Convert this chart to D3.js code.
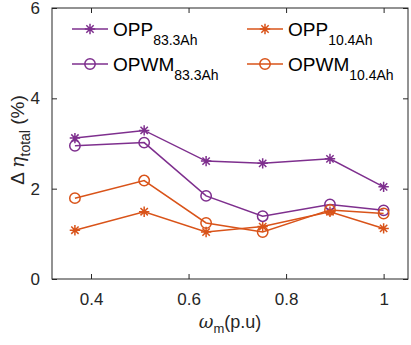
<!DOCTYPE html>
<html><head><meta charset="utf-8">
<script src="https://cdn.jsdelivr.net/npm/d3@7"></script>
<style>body{margin:0;background:#fff}svg{font-family:"Liberation Sans",Arial,sans-serif}</style>
</head><body>
<svg id="c" width="411" height="345"></svg>
<script>
const speeds = [0.367, 0.509, 0.636, 0.752, 0.89, 1.0];
const opp833 = [3.12, 3.29, 2.61, 2.56, 2.66, 2.04];
const opwm833 = [2.95, 3.02, 1.84, 1.39, 1.65, 1.52];
const opp104 = [1.08, 1.49, 1.04, 1.16, 1.49, 1.12];
const opwm104 = [1.79, 2.18, 1.24, 1.04, 1.53, 1.45];
const xTicks = [0.4, 0.6, 0.8, 1];
const yTicks = [0, 2, 4, 6];
const seriesNames = [["OPP","83.3Ah"],["OPP","10.4Ah"],["OPWM","83.3Ah"],["OPWM","10.4Ah"]];

const purple = "#7E2F8E", orange = "#D95319";
const series = [
  {vals: opp833, color: purple, marker: "star", name: seriesNames[0]},
  {vals: opp104, color: orange, marker: "star", name: seriesNames[1]},
  {vals: opwm833, color: purple, marker: "circle", name: seriesNames[2]},
  {vals: opwm104, color: orange, marker: "circle", name: seriesNames[3]},
];

const L = 52, R = 408, T = 8, B = 279;
const svg = d3.select("#c");
const x = d3.scaleLinear().domain([0.32, 1.05]).range([L, R]);
const y = d3.scaleLinear().domain([0, 6]).range([B, T]);
const axisColor = "#262626";
const tickFont = "17px";

const gx = svg.append("g").attr("transform", `translate(0,${B})`)
  .call(d3.axisBottom(x).tickValues(xTicks).tickSize(-5).tickPadding(14).tickFormat(d => d === 1 ? "1" : d3.format(".1f")(d)));
const gxt = svg.append("g").attr("transform", `translate(0,${T})`)
  .call(d3.axisTop(x).tickValues(xTicks).tickSize(-5).tickFormat(""));
const gy = svg.append("g").attr("transform", `translate(${L},0)`)
  .call(d3.axisLeft(y).tickValues(yTicks).tickSize(-5).tickPadding(12).tickFormat(d3.format("d")));
const gyr = svg.append("g").attr("transform", `translate(${R},0)`)
  .call(d3.axisRight(y).tickValues(yTicks).tickSize(-5).tickFormat(""));
[gx, gxt, gy, gyr].forEach(g => {
  g.select(".domain").remove();
  g.selectAll("line").attr("stroke", axisColor).attr("stroke-width", 1);
  g.selectAll("text").attr("fill", axisColor).style("font-size", tickFont).style("font-family", "Liberation Sans, Arial, sans-serif");
});
svg.append("rect").attr("x", L).attr("y", T).attr("width", R - L).attr("height", B - T)
  .attr("fill", "none").attr("stroke", axisColor).attr("stroke-width", 1);

function starPath(cx, cy, r) {
  let p = "";
  for (let k = 0; k < 4; k++) {
    const a = k * Math.PI / 4;
    const dx = r * Math.cos(a), dy = r * Math.sin(a);
    p += `M${cx - dx},${cy - dy}L${cx + dx},${cy + dy}`;
  }
  return p;
}
function drawMarker(g, m, cx, cy, color) {
  if (m === "circle") {
    g.append("circle").attr("cx", cx).attr("cy", cy).attr("r", 5.2)
      .attr("fill", "none").attr("stroke", color).attr("stroke-width", 1.5);
  } else {
    g.append("path").attr("d", starPath(cx, cy, 5.2)).attr("stroke", color).attr("stroke-width", 1.5).attr("fill", "none");
  }
}

const line = d3.line().x(d => x(d[0])).y(d => y(d[1]));
const plot = svg.append("g");
series.forEach(s => {
  const pts = speeds.map((v, i) => [v, s.vals[i]]);
  plot.append("path").attr("d", line(pts)).attr("fill", "none").attr("stroke", s.color).attr("stroke-width", 1.5);
  pts.forEach(p => drawMarker(plot, s.marker, x(p[0]), y(p[1]), s.color));
});

const leg = svg.append("g");
const legPos = [[72, 29], [247, 29], [72, 64], [247, 64]];
series.forEach((s, i) => {
  const [lx, ly] = legPos[i];
  leg.append("line").attr("x1", lx).attr("x2", lx + 36).attr("y1", ly).attr("y2", ly).attr("stroke", s.color).attr("stroke-width", 1.5);
  drawMarker(leg, s.marker, lx + 18, ly, s.color);
  const t = leg.append("text").attr("x", lx + 41).attr("y", ly + 7).attr("fill", "#000").style("font-size", "19px");
  t.append("tspan").text(s.name[0]);
  t.append("tspan").attr("dy", 9).style("font-size", "14px").text(s.name[1]);
});

const yl = svg.append("text").attr("transform", "translate(24,140) rotate(-90)").attr("text-anchor", "middle")
  .attr("fill", axisColor).style("font-size", "19px");
yl.append("tspan").text("Δ ");
yl.append("tspan").style("font-family", "DejaVu Serif, serif").style("font-style", "italic").text("η");
yl.append("tspan").attr("dy", 6).style("font-size", "14px").text("total");
yl.append("tspan").attr("dy", -6).text(" (%)");

const xl = svg.append("text").attr("x", 230).attr("y", 328).attr("text-anchor", "middle")
  .attr("fill", axisColor).style("font-size", "18px");
xl.append("tspan").style("font-family", "DejaVu Serif, serif").style("font-style", "italic").text("ω");
xl.append("tspan").attr("dy", 5).style("font-size", "13px").text("m");
xl.append("tspan").attr("dy", -5).text("(p.u)");
</script>
</body></html>
